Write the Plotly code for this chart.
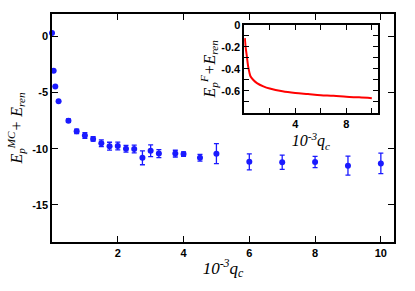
import plotly.graph_objects as go

# Main data (Monte Carlo)
qc = [0.0, 0.05, 0.1, 0.2, 0.5, 0.75, 1.0, 1.25, 1.5, 1.75, 2.0, 2.25, 2.5,
      2.75, 3.0, 3.25, 3.75, 4.0, 4.5, 5.0, 6.0, 7.0, 8.0, 9.0, 10.0]
e_mc = [0.3, -3.05, -4.45, -5.77, -7.5, -8.45, -8.82, -9.12, -9.5, -9.77, -9.75,
        -10.0, -10.02, -10.8, -10.17, -10.43, -10.43, -10.47, -10.8, -10.44,
        -11.16, -11.2, -11.18, -11.5, -11.3]
e_err = [0, 0, 0, 0, 0.15, 0.2, 0.25, 0.2, 0.3, 0.35, 0.35, 0.3, 0.35,
         0.62, 0.52, 0.35, 0.3, 0.2, 0.3, 0.89, 0.71, 0.64, 0.5, 0.84, 0.92]

# Inset data
qc_in = [0.05, 0.1, 0.2, 0.3, 0.4, 0.5, 0.7, 1.0, 1.5, 2.0, 3.0, 4.0, 5.0,
         6.0, 7.0, 8.0, 9.0, 10.0]
e_f = [-0.12, -0.19, -0.28, -0.37, -0.43, -0.47, -0.50, -0.53, -0.56, -0.58,
       -0.605, -0.62, -0.63, -0.64, -0.645, -0.655, -0.66, -0.667]

main_ticks_x = [2, 4, 6, 8, 10]
main_ticks_y = [0, -5, -10, -15]
inset_ticks_x = [4, 8]
inset_ticks_y = [0, -0.2, -0.4, -0.6]


def bold(vals):
    return ["<b>%g</b>" % v for v in vals]


tickfont = dict(family="Liberation Sans", size=11, color="black")
titlefont = dict(family="Liberation Serif", size=17, color="black")

fig = go.Figure()
fig.add_trace(go.Scatter(
    x=qc, y=e_mc, mode="markers",
    marker=dict(color="#1a1aff", size=6),
    error_y=dict(type="data", array=e_err, color="#1a1aff", thickness=1.3, width=2.5),
    cliponaxis=False, showlegend=False, xaxis="x", yaxis="y"))
fig.add_trace(go.Scatter(
    x=qc_in, y=e_f, mode="lines", line=dict(color="#ff0000", width=2, shape="spline"),
    showlegend=False, xaxis="x2", yaxis="y2"))

axis_common = dict(showgrid=False, zeroline=False, showline=True, linecolor="black",
                   linewidth=1.5, ticks="inside", tickcolor="black", tickwidth=1.2,
                   mirror="ticks", tickfont=tickfont, automargin=False)

fig.update_layout(
    width=415, height=291,
    margin=dict(l=52, r=21, t=14, b=49),
    paper_bgcolor="white", plot_bgcolor="white",
    xaxis=dict(range=[0, 10.4], tickvals=main_ticks_x, ticktext=bold(main_ticks_x), ticklen=6,
               title=dict(text="<i>10<sup>-3</sup>q<sub>c</sub></i>", font=titlefont, standoff=4),
               **axis_common),
    yaxis=dict(range=[-18.3, 2], tickvals=main_ticks_y, ticktext=bold(main_ticks_y), ticklen=6,
               title=dict(text="<i>E<sub>p</sub><sup>MC</sup>+ E<sub>ren</sub></i>",
                          font=dict(family="Liberation Serif", size=16, color="black"), standoff=6),
               **axis_common),
    xaxis2=dict(domain=[0.562, 0.952], anchor="y2", range=[0, 10.45],
                tickvals=inset_ticks_x, ticktext=bold(inset_ticks_x), ticklen=5,
                minor=dict(dtick=2, ticks="inside", ticklen=5, tickcolor="black"),
                title=dict(text="<i>10<sup>-3</sup>q<sub>c</sub></i>",
                           font=dict(family="Liberation Serif", size=16, color="black"), standoff=0),
                **axis_common),
    yaxis2=dict(domain=[0.567, 0.952], anchor="x2", range=[-0.8, 0],
                tickvals=inset_ticks_y, ticktext=bold(inset_ticks_y), ticklen=5,
                minor=dict(dtick=0.1, ticks="inside", ticklen=5, tickcolor="black"),
                title=dict(text="<i>E<sub>p</sub><sup>F</sup>+E<sub>ren</sub></i>",
                           font=dict(family="Liberation Serif", size=16, color="black"), standoff=2),
                **axis_common),
)

fig.write_html("out.html", config={"displayModeBar": False},
               post_script="document.body.style.margin='0';")
